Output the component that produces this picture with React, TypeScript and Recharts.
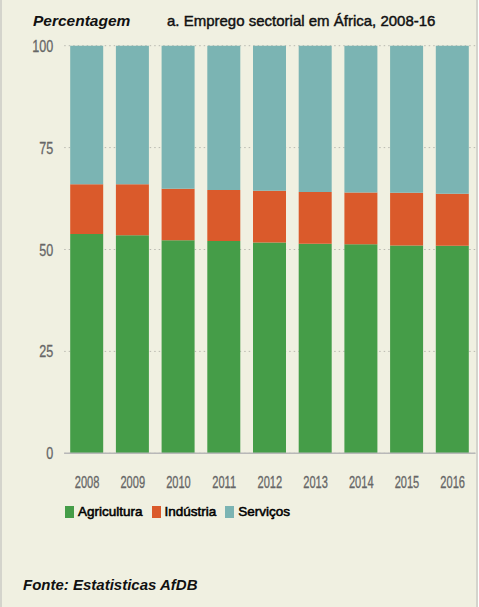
import React from "react";
import { BarChart, Bar, XAxis, YAxis, CartesianGrid, Legend } from "recharts";

const years = ["2008", "2009", "2010", "2011", "2012", "2013", "2014", "2015", "2016"];
const agricultura = [53.8, 53.5, 52.3, 52.1, 51.7, 51.4, 51.3, 51.0, 50.9];
const industria = [12.2, 12.5, 12.6, 12.5, 12.7, 12.7, 12.7, 12.9, 12.8];
const servicos = [34.0, 34.0, 35.1, 35.4, 35.6, 35.9, 36.0, 36.1, 36.3];
const yTicks = [0, 25, 50, 75, 100];

const seriesNames = ["Agricultura", "Indústria", "Serviços"];
const seriesColors = ["#459d48", "#da5a2b", "#7bb4b3"];

const data = years.map((y, i) => ({
  year: y,
  Agricultura: agricultura[i],
  "Indústria": industria[i],
  "Serviços": servicos[i],
}));

const FONT = '"Liberation Sans", Arial, sans-serif';

const YTick = (props: any) => {
  const { x, y, payload } = props;
  return (
    <g transform={`translate(${x},${y}) scale(0.74,1)`}>
      <text x={0} y={0} dy={6} textAnchor="end" fill="#666" stroke="#666" strokeWidth={0.3} fontSize={17} fontFamily={FONT}>
        {payload.value}
      </text>
    </g>
  );
};

const XTick = (props: any) => {
  const { x, y, payload } = props;
  return (
    <g transform={`translate(${x},${y}) scale(0.68,1)`}>
      <text x={0} y={35} textAnchor="middle" fill="#666" stroke="#666" strokeWidth={0.3} fontSize={16.3} fontFamily={FONT}>
        {payload.value}
      </text>
    </g>
  );
};

const LegendContent = () => (
  <div style={{ display: "flex", alignItems: "center", fontFamily: FONT, fontSize: 13.5, color: "#000", WebkitTextStroke: "0.55px #000" }}>
    {seriesNames.map((n, i) => (
      <div key={n} style={{ display: "flex", alignItems: "center", marginRight: 9 }}>
        <span style={{ display: "inline-block", width: 9, height: 12, background: seriesColors[i], marginRight: 4 }} />
        <span>{n}</span>
      </div>
    ))}
  </div>
);

export default function App() {
  return (
    <div style={{ position: "absolute", left: 0, top: 0, width: 479, height: 607, background: "#ffffff" }}>
      <div
        style={{
          position: "absolute",
          left: 0,
          top: 0,
          width: 474,
          height: 607,
          background: "#f0f0e1",
          borderLeft: "2px solid #d4d4cc",
          borderRight: "2px solid #d4d4cc",
        }}
      />
      <div style={{ position: "absolute", left: 0, top: 0 }}>
        <BarChart
          width={479}
          height={607}
          data={data}
          margin={{ top: 45.7, right: 3.5, bottom: 123.7, left: 10.2 }}
          barCategoryGap={0}
        >
          <CartesianGrid vertical={false} stroke="#b9b9b0" strokeDasharray="1.5 3" />
          <XAxis
            dataKey="year"
            axisLine={{ stroke: "#b8b8b8", strokeWidth: 1.5 }}
            tickLine={false}
            tickSize={0}
            tickMargin={0}
            height={30}
            tick={<XTick />}
            interval={0}
          />
          <YAxis
            domain={[0, 100]}
            ticks={yTicks}
            axisLine={false}
            tickLine={false}
            tickSize={0}
            tickMargin={11}
            width={54}
            tick={<YTick />}
          />
          <Legend
            layout="horizontal"
            verticalAlign="middle"
            align="center"
            content={<LegendContent />}
            wrapperStyle={{ top: 504, left: 65, width: 300 }}
          />
          {seriesNames.map((n, i) => (
            <Bar key={n} dataKey={n} stackId="a" fill={seriesColors[i]} barSize={33} isAnimationActive={false} />
          ))}
        </BarChart>
      </div>
      <div
        style={{
          position: "absolute",
          left: 33,
          top: 11,
          fontFamily: FONT,
          fontSize: 15.5,
          fontWeight: "bold",
          fontStyle: "italic",
          color: "#111",
          lineHeight: "20px",
          whiteSpace: "nowrap",
        }}
      >
        Percentagem
      </div>
      <div
        style={{
          position: "absolute",
          left: 167,
          top: 11,
          fontFamily: FONT,
          fontSize: 15,
          color: "#111",
          WebkitTextStroke: "0.45px #111",
          lineHeight: "20px",
          whiteSpace: "nowrap",
        }}
      >
        a. Emprego sectorial em África, 2008-16
      </div>
      <div
        style={{
          position: "absolute",
          left: 23,
          top: 575,
          fontFamily: FONT,
          fontSize: 15,
          fontWeight: "bold",
          fontStyle: "italic",
          color: "#111",
          lineHeight: "20px",
          whiteSpace: "nowrap",
        }}
      >
        Fonte: Estatisticas AfDB
      </div>
    </div>
  );
}
